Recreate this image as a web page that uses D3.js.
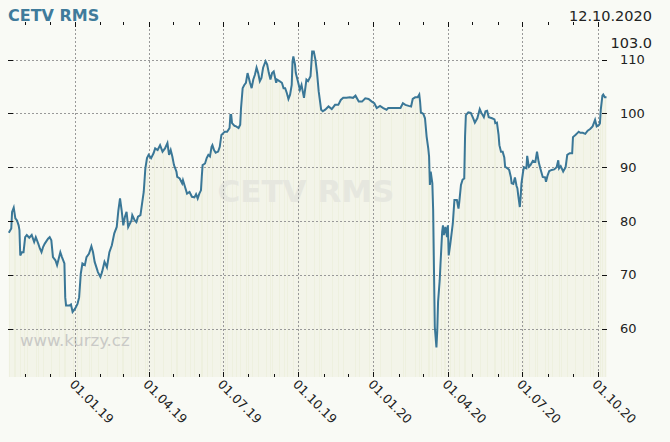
<!DOCTYPE html>
<html><head><meta charset="utf-8">
<script src="https://cdn.jsdelivr.net/npm/d3@7"></script>
<style>
html,body{margin:0;padding:0;background:#f9faf5;}
svg{display:block;}
text{font-family:"DejaVu Sans",Verdana,sans-serif;}
</style></head>
<body>
<svg id="chart" width="670" height="442"></svg>
<script>
const title = "CETV RMS";
const lastDate = "12.10.2020";
const lastValue = "103.0";
const yTicks = [60, 70, 80, 90, 100, 110];
const xMajorTicks = ["2019-01-01","2019-04-01","2019-07-01","2019-10-01","2020-01-01","2020-04-01","2020-07-01","2020-10-01"];
const xTickLabels = ["01.01.19","01.04.19","01.07.19","01.10.19","01.01.20","01.04.20","01.07.20","01.10.20"];
const xDomain = ["2018-10-11","2020-10-12"];
const yDomain = [51, 117];

const dates = [
"2018-10-12","2018-10-15","2018-10-16","2018-10-18","2018-10-20","2018-10-22","2018-10-24","2018-10-25","2018-10-26","2018-10-28",
"2018-10-30","2018-11-01","2018-11-03","2018-11-06","2018-11-09","2018-11-12","2018-11-14","2018-11-17","2018-11-19","2018-11-21",
"2018-11-23","2018-11-25","2018-11-29","2018-12-01","2018-12-03","2018-12-05","2018-12-08","2018-12-10","2018-12-12","2018-12-14",
"2018-12-16","2018-12-19","2018-12-20","2018-12-21","2018-12-25","2018-12-27","2018-12-29","2019-01-01","2019-01-04","2019-01-06",
"2019-01-08","2019-01-10","2019-01-13","2019-01-15","2019-01-18","2019-01-21","2019-01-23","2019-01-25","2019-01-29","2019-02-01",
"2019-02-03","2019-02-06","2019-02-09","2019-02-12","2019-02-15","2019-02-18","2019-02-21","2019-02-23","2019-02-25","2019-02-27",
"2019-03-01","2019-03-03","2019-03-05","2019-03-07","2019-03-11","2019-03-12","2019-03-15","2019-03-17","2019-03-19","2019-03-22",
"2019-03-24","2019-03-26","2019-03-28","2019-03-30","2019-04-01","2019-04-04","2019-04-07","2019-04-09","2019-04-12","2019-04-15",
"2019-04-18","2019-04-21","2019-04-24","2019-04-26","2019-04-28","2019-04-30","2019-05-02","2019-05-05","2019-05-06","2019-05-09",
"2019-05-12","2019-05-13","2019-05-16","2019-05-18","2019-05-21","2019-05-24","2019-05-27","2019-05-29","2019-05-31","2019-06-02",
"2019-06-04","2019-06-05","2019-06-06","2019-06-09","2019-06-11","2019-06-13","2019-06-15","2019-06-17","2019-06-18","2019-06-20",
"2019-06-22","2019-06-25","2019-06-27","2019-06-29","2019-07-01","2019-07-03","2019-07-06","2019-07-09","2019-07-10","2019-07-11",
"2019-07-12","2019-07-15","2019-07-17","2019-07-20","2019-07-22","2019-07-23","2019-07-25","2019-07-27","2019-07-29","2019-07-31",
"2019-08-01","2019-08-03","2019-08-05","2019-08-07","2019-08-09","2019-08-11","2019-08-13","2019-08-15","2019-08-17","2019-08-19",
"2019-08-22","2019-08-24","2019-08-26","2019-08-28","2019-08-30","2019-09-01","2019-09-04","2019-09-05","2019-09-08","2019-09-11",
"2019-09-13","2019-09-15","2019-09-17","2019-09-19","2019-09-21","2019-09-23","2019-09-24","2019-09-25","2019-09-27","2019-09-28",
"2019-10-01","2019-10-03","2019-10-05","2019-10-08","2019-10-11","2019-10-13","2019-10-16","2019-10-18","2019-10-20","2019-10-22",
"2019-10-24","2019-10-26","2019-10-29","2019-10-31","2019-11-03","2019-11-07","2019-11-11","2019-11-15","2019-11-19","2019-11-22",
"2019-11-25","2019-11-29","2019-12-03","2019-12-07","2019-12-10","2019-12-14","2019-12-18","2019-12-22","2019-12-26","2019-12-30",
"2020-01-02","2020-01-05","2020-01-09","2020-01-13","2020-01-17","2020-01-19","2020-01-23","2020-01-27","2020-02-03","2020-02-06",
"2020-02-09","2020-02-13","2020-02-16","2020-02-18","2020-02-21","2020-02-24","2020-02-26","2020-02-27","2020-02-28","2020-03-02",
"2020-03-04","2020-03-06","2020-03-08","2020-03-09","2020-03-10","2020-03-11","2020-03-13","2020-03-14","2020-03-15","2020-03-16",
"2020-03-18","2020-03-19","2020-03-20","2020-03-22","2020-03-23","2020-03-25","2020-03-26","2020-03-27","2020-03-29","2020-03-31",
"2020-04-01","2020-04-02","2020-04-04","2020-04-07","2020-04-09","2020-04-12","2020-04-14","2020-04-15","2020-04-17","2020-04-19",
"2020-04-21","2020-04-22","2020-04-23","2020-04-26","2020-04-29","2020-05-02","2020-05-04","2020-05-07","2020-05-10","2020-05-12",
"2020-05-15","2020-05-17","2020-05-19","2020-05-21","2020-05-25","2020-05-28","2020-05-29","2020-05-31","2020-06-02","2020-06-03",
"2020-06-05","2020-06-07","2020-06-09","2020-06-10","2020-06-13","2020-06-15","2020-06-17","2020-06-18","2020-06-20","2020-06-22",
"2020-06-24","2020-06-25","2020-06-26","2020-06-28","2020-06-29","2020-06-30","2020-07-02","2020-07-03","2020-07-06","2020-07-07",
"2020-07-09","2020-07-11","2020-07-14","2020-07-17","2020-07-19","2020-07-21","2020-07-23","2020-07-26","2020-07-29","2020-07-30",
"2020-08-01","2020-08-03","2020-08-06","2020-08-09","2020-08-12","2020-08-14","2020-08-15","2020-08-17","2020-08-20","2020-08-23",
"2020-08-25","2020-08-28","2020-08-31","2020-09-01","2020-09-04","2020-09-06","2020-09-08","2020-09-10","2020-09-13","2020-09-16",
"2020-09-19","2020-09-22","2020-09-25","2020-09-28","2020-09-30","2020-10-03","2020-10-04","2020-10-05","2020-10-07","2020-10-08","2020-10-10","2020-10-12"
];
const values = [
77.8,78.6,81.7,82.5,80.5,80.1,79.2,78.3,73.6,74.2,
74.2,77.0,77.4,76.9,77.4,76.1,77.0,75.8,74.9,74.2,
75.2,75.8,76.7,77.0,76.4,73.3,72.7,71.8,73.0,74.2,
73.3,72.1,65.8,64.3,64.3,64.5,63.1,63.7,64.6,65.8,
70.2,72.1,71.8,73.3,73.9,75.3,74.2,72.4,70.5,69.6,
70.5,72.4,71.4,74.2,75.5,77.7,78.9,82.0,84.2,82.0,
79.2,80.8,81.7,78.9,80.1,81.1,80.1,79.8,80.8,81.1,
83.3,85.4,89.8,91.7,92.3,91.7,92.6,93.5,93.2,94.1,
92.9,93.5,94.5,92.3,93.2,92.0,90.4,89.2,88.2,87.9,
87.0,87.6,86.1,85.1,85.4,84.5,84.4,85.0,84.2,85.1,
85.7,88.2,90.4,90.7,91.7,92.3,92.0,93.8,94.1,93.2,
92.7,92.9,93.8,96.0,96.3,96.6,96.6,97.3,99.7,99.7,
98.2,97.7,97.6,97.3,97.9,101.0,104.7,105.3,105.7,107.5,
106.9,105.7,104.7,106.3,107.2,108.5,107.5,106.0,106.6,108.5,
109.7,109.1,107.5,106.3,107.5,107.8,105.7,106.3,106.0,105.7,
104.7,104.7,103.8,102.7,103.5,105.3,109.7,110.6,109.1,107.5,
105.7,104.4,105.3,102.9,106.3,106.0,106.9,111.5,111.5,110.0,
107.5,104.1,100.7,100.4,100.7,101.3,100.8,101.6,101.6,102.5,
102.9,102.9,103.0,102.9,103.3,102.2,102.2,102.8,102.7,102.2,
101.9,101.0,101.4,101.0,100.7,101.0,101.0,101.0,101.0,101.9,
101.6,101.4,101.3,102.7,103.0,103.0,103.5,102.2,100.2,99.9,
99.1,95.7,93.5,92.0,86.7,89.2,87.0,82.0,70.8,60.3,
56.5,59.6,65.0,69.0,72.1,78.0,79.2,77.4,78.9,77.0,
79.2,73.6,75.8,79.5,83.9,83.9,82.3,83.6,86.7,87.7,
87.9,95.7,99.7,100.2,100.1,99.1,98.3,99.1,100.8,100.1,
99.3,100.4,100.5,99.3,99.1,98.9,98.2,98.3,96.0,94.1,
92.9,92.9,91.8,90.1,89.8,89.5,88.2,87.0,86.9,88.1,
86.5,86.1,84.8,82.6,84.5,87.0,89.2,90.0,89.8,92.1,
90.1,90.4,91.2,91.0,92.9,91.0,89.8,88.2,88.1,87.3,
88.5,89.3,89.5,89.6,90.0,91.3,89.8,90.2,89.2,90.0,
92.3,92.6,92.6,95.6,96.0,96.3,96.6,96.4,96.4,96.2,
96.8,97.1,97.6,98.8,97.6,97.9,98.2,100.7,103.3,103.5,103.0,103.0
];

const parse = d3.utcParse("%Y-%m-%d");
const data = dates.map((d, i) => ({date: parse(d), value: values[i]}));

const plot = {left: 8, right: 606.5, top: 22, bottom: 377};
const svg = d3.select("#chart");

const x = d3.scaleUtc().domain(xDomain.map(parse)).range([plot.left, plot.right]);
const y = d3.scaleLinear().domain(yDomain).range([plot.bottom, plot.top]);

svg.append("rect").attr("width", 670).attr("height", 442).attr("fill", "#f9faf5");

// area fill
const area = d3.area().x(d => x(d.date)).y0(plot.bottom).y1(d => y(d.value));
svg.append("path").datum(data).attr("d", area).attr("fill", "#f3f4e9");

// subtle vertical stripes in the fill
svg.append("g").selectAll("line").data(data.filter((d, i) => i % 4 === 0 || i % 7 === 3)).join("line")
  .attr("x1", d => Math.round(x(d.date)) + 0.5).attr("x2", d => Math.round(x(d.date)) + 0.5)
  .attr("y1", d => y(d.value) + 2).attr("y2", plot.bottom)
  .attr("stroke", "#eef0df").attr("stroke-width", 1);

// watermark
svg.append("text").attr("x", 306).attr("y", 202).attr("text-anchor", "middle")
  .attr("font-size", 31).attr("font-weight", "bold").attr("fill", "#e6e7df").text(title);
svg.append("text").attr("x", 20).attr("y", 346)
  .attr("font-size", 16.5).attr("fill", "#c9c9c6").text("www.kurzy.cz");

// grid
const grid = svg.append("g").attr("stroke", "#999").attr("stroke-dasharray", "2,2").attr("stroke-width", 1);
grid.selectAll("line.h").data(yTicks).join("line").attr("class", "h")
  .attr("x1", plot.left).attr("x2", 600)
  .attr("y1", d => Math.round(y(d)) + 0.5).attr("y2", d => Math.round(y(d)) + 0.5);
grid.selectAll("line.v").data(xMajorTicks.map(parse)).join("line").attr("class", "v")
  .attr("x1", d => Math.round(x(d)) + 0.5).attr("x2", d => Math.round(x(d)) + 0.5)
  .attr("y1", plot.top + 3).attr("y2", plot.bottom);

// line
const line = d3.line().x(d => x(d.date)).y(d => y(d.value));
svg.append("path").datum(data).attr("d", line).attr("fill", "none")
  .attr("stroke", "#3a7797").attr("stroke-width", 2).attr("stroke-linejoin", "miter");

// x ticks top & bottom, monthly minor
const monthTicks = d3.utcMonth.range(parse("2018-11-01"), parse("2020-10-13"));
const majorSet = new Set(xMajorTicks);
const fmtKey = d3.utcFormat("%Y-%m-%d");
const tickG = svg.append("g").attr("stroke", "#111").attr("stroke-width", 1);
tickG.selectAll("line.tt").data(monthTicks).join("line").attr("class", "tt")
  .attr("x1", d => Math.round(x(d)) + 0.5).attr("x2", d => Math.round(x(d)) + 0.5)
  .attr("y1", plot.top).attr("y2", d => majorSet.has(fmtKey(d)) ? plot.top + 5 : plot.top + 3);
tickG.selectAll("line.bt").data(monthTicks).join("line").attr("class", "bt")
  .attr("x1", d => Math.round(x(d)) + 0.5).attr("x2", d => Math.round(x(d)) + 0.5)
  .attr("y1", d => majorSet.has(fmtKey(d)) ? plot.bottom - 5 : plot.bottom - 3).attr("y2", plot.bottom);

// y ticks left & right
tickG.selectAll("line.yl").data(yTicks).join("line").attr("class", "yl")
  .attr("x1", plot.left).attr("x2", plot.left + 5)
  .attr("y1", d => Math.round(y(d)) + 0.5).attr("y2", d => Math.round(y(d)) + 0.5);
tickG.selectAll("line.yr").data(yTicks).join("line").attr("class", "yr")
  .attr("x1", 602).attr("x2", 607)
  .attr("y1", d => Math.round(y(d)) + 0.5).attr("y2", d => Math.round(y(d)) + 0.5);

// y labels
svg.append("g").selectAll("text").data(yTicks).join("text")
  .attr("x", 620).attr("y", d => y(d)).attr("dy", "0.35em")
  .attr("font-size", 13).attr("fill", "#222").text(d => d);

// x labels rotated
svg.append("g").selectAll("text").data(xMajorTicks).join("text")
  .attr("transform", d => `translate(${x(parse(d)) - 3},${plot.bottom + 5}) rotate(45)`)
  .attr("font-size", 12.5).attr("fill", "#222").attr("dy", "0.35em")
  .text((d, i) => xTickLabels[i]);

// title & last value
svg.append("text").attr("x", 8).attr("y", 21).attr("font-size", 16).attr("font-weight", "bold")
  .attr("fill", "#3f7b9b").text(title);
svg.append("text").attr("x", 652).attr("y", 21).attr("text-anchor", "end")
  .attr("font-size", 14.5).attr("fill", "#222").text(lastDate);
svg.append("text").attr("x", 652).attr("y", 48).attr("text-anchor", "end")
  .attr("font-size", 14.5).attr("fill", "#222").text(lastValue);
</script>
</body></html>
